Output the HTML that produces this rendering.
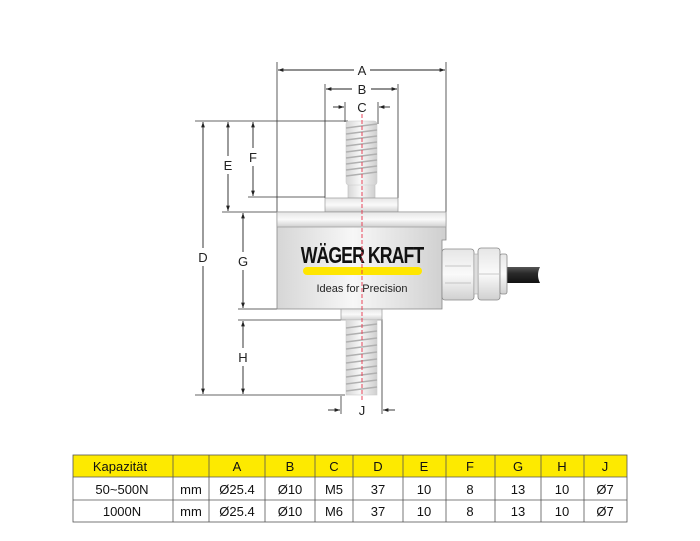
<!DOCTYPE html>
<html><head><meta charset="utf-8"><style>
html,body{margin:0;padding:0;background:#fff;width:700px;height:541px;overflow:hidden}
svg{display:block}
text{font-family:"Liberation Sans",sans-serif}
</style></head><body>
<svg width="700" height="541" viewBox="0 0 700 541" xmlns="http://www.w3.org/2000/svg">
<defs>
<linearGradient id="m" x1="0" x2="1" y1="0" y2="0">
<stop offset="0" stop-color="#d6d6d6"/><stop offset="0.45" stop-color="#f7f7f7"/><stop offset="1" stop-color="#cfcfcf"/>
</linearGradient>
<linearGradient id="mv" x1="0" x2="0" y1="0" y2="1">
<stop offset="0" stop-color="#e6e6e6"/><stop offset="0.5" stop-color="#fafafa"/><stop offset="1" stop-color="#d0d0d0"/>
</linearGradient>
<linearGradient id="cab" x1="0" x2="0" y1="0" y2="1">
<stop offset="0" stop-color="#555"/><stop offset="0.4" stop-color="#2a2a2a"/><stop offset="1" stop-color="#111"/>
</linearGradient>
<marker id="ar" viewBox="0 0 10 10" refX="10" refY="5" markerWidth="8" markerHeight="6" orient="auto-start-reverse">
<path d="M0,1.5 L10,5 L0,8.5 Z" fill="#222"/></marker>
</defs>

<g stroke="#333" stroke-width="0.8" fill="none">
<line x1="277" y1="62" x2="277" y2="212"/>
<line x1="446" y1="62" x2="446" y2="212"/>
<line x1="325" y1="84" x2="325" y2="198"/>
<line x1="398" y1="84" x2="398" y2="198"/>
<line x1="345" y1="102" x2="345" y2="122"/>
<line x1="378" y1="102" x2="378" y2="124"/>
<line x1="195" y1="121" x2="348" y2="121"/>
<line x1="195" y1="395" x2="345" y2="395"/>
<line x1="222" y1="212" x2="277" y2="212"/>
<line x1="248" y1="197" x2="325" y2="197"/>
<line x1="238" y1="309" x2="277" y2="309"/>
<line x1="238" y1="320" x2="341" y2="320"/>
<line x1="341" y1="396" x2="341" y2="414"/>
<line x1="382" y1="319" x2="382" y2="414"/>
</g>

<g stroke="#222" stroke-width="0.9" fill="none">
<line x1="278" y1="70" x2="354" y2="70" marker-start="url(#ar)"/>
<line x1="370" y1="70" x2="445" y2="70" marker-end="url(#ar)"/>
<line x1="326" y1="89" x2="352" y2="89" marker-start="url(#ar)"/>
<line x1="371" y1="89" x2="397" y2="89" marker-end="url(#ar)"/>
<line x1="333" y1="107" x2="344" y2="107" marker-end="url(#ar)"/>
<line x1="390" y1="107" x2="379" y2="107" marker-end="url(#ar)"/>
<line x1="328" y1="410" x2="340" y2="410" marker-end="url(#ar)"/>
<line x1="395" y1="410" x2="383" y2="410" marker-end="url(#ar)"/>
<line x1="203" y1="122" x2="203" y2="248" marker-start="url(#ar)"/>
<line x1="203" y1="266" x2="203" y2="394" marker-end="url(#ar)"/>
<line x1="228" y1="122" x2="228" y2="156" marker-start="url(#ar)"/>
<line x1="228" y1="174" x2="228" y2="211" marker-end="url(#ar)"/>
<line x1="253" y1="122" x2="253" y2="148" marker-start="url(#ar)"/>
<line x1="253" y1="166" x2="253" y2="196" marker-end="url(#ar)"/>
<line x1="243" y1="213" x2="243" y2="252" marker-start="url(#ar)"/>
<line x1="243" y1="270" x2="243" y2="308" marker-end="url(#ar)"/>
<line x1="243" y1="321" x2="243" y2="348" marker-start="url(#ar)"/>
<line x1="243" y1="366" x2="243" y2="394" marker-end="url(#ar)"/>
</g>
<g font-size="13" fill="#222" text-anchor="middle">
<text x="362" y="75">A</text>
<text x="362" y="94">B</text>
<text x="362" y="112">C</text>
<text x="362" y="415">J</text>
<text x="203" y="262">D</text>
<text x="228" y="170">E</text>
<text x="253" y="162">F</text>
<text x="243" y="266">G</text>
<text x="243" y="362">H</text>
</g>

<rect x="348" y="180" width="27" height="18" fill="url(#m)" stroke="#bbb" stroke-width="0.6"/>
<rect x="346" y="121" width="31" height="64" rx="3" fill="url(#m)" stroke="#ccc" stroke-width="0.6"/>
<g stroke="#b0b0b0" stroke-width="1.4">
<line x1="346" y1="128" x2="377" y2="124"/><line x1="346" y1="134" x2="377" y2="130"/>
<line x1="346" y1="140" x2="377" y2="136"/><line x1="346" y1="146" x2="377" y2="142"/>
<line x1="346" y1="152" x2="377" y2="148"/><line x1="346" y1="158" x2="377" y2="154"/>
<line x1="346" y1="164" x2="377" y2="160"/><line x1="346" y1="170" x2="377" y2="166"/>
<line x1="346" y1="176" x2="377" y2="172"/>
</g>
<rect x="325" y="198" width="73" height="14" fill="url(#mv)" stroke="#999" stroke-width="0.7"/>

<path d="M277,212 H446 V240 H442 V309 H277 Z" fill="url(#m)" stroke="#888" stroke-width="0.8"/>
<rect x="277" y="212" width="169" height="15" fill="url(#mv)" stroke="#999" stroke-width="0.7"/>
<text x="362" y="263" text-anchor="middle" font-size="23" font-weight="bold" fill="#111" letter-spacing="-1.2" transform="translate(362 0) scale(0.77 1) translate(-362 0)">WÄGER KRAFT</text>
<rect x="303" y="267" width="119" height="8" rx="4" fill="#ffe600"/>
<text x="362" y="292" text-anchor="middle" font-size="11" fill="#222">Ideas for Precision</text>

<rect x="502" y="267" width="38" height="16" fill="url(#cab)"/>
<path d="M540,267 q-4,8 0,16" fill="#fff"/>
<rect x="442" y="249" width="32" height="51" rx="3" fill="url(#mv)" stroke="#888" stroke-width="0.8"/>
<line x1="445" y1="266" x2="471" y2="266" stroke="#999" stroke-width="0.6"/>
<line x1="445" y1="283" x2="471" y2="283" stroke="#999" stroke-width="0.6"/>
<rect x="478" y="248" width="22" height="52" rx="3" fill="url(#mv)" stroke="#888" stroke-width="0.8"/>
<line x1="479" y1="274" x2="499" y2="274" stroke="#999" stroke-width="0.6"/>
<rect x="500" y="254" width="7" height="40" rx="2" fill="url(#mv)" stroke="#888" stroke-width="0.8"/>
<rect x="474" y="254" width="4" height="40" fill="#ddd" stroke="#999" stroke-width="0.5"/>

<rect x="341" y="309" width="41" height="11" fill="url(#mv)" stroke="#999" stroke-width="0.7"/>
<rect x="346" y="320" width="31" height="75" fill="url(#m)" stroke="#ccc" stroke-width="0.6"/>
<g stroke="#b0b0b0" stroke-width="1.4">
<line x1="346" y1="328" x2="377" y2="324"/><line x1="346" y1="335" x2="377" y2="331"/>
<line x1="346" y1="342" x2="377" y2="338"/><line x1="346" y1="349" x2="377" y2="345"/>
<line x1="346" y1="356" x2="377" y2="352"/><line x1="346" y1="363" x2="377" y2="359"/>
<line x1="346" y1="370" x2="377" y2="366"/><line x1="346" y1="377" x2="377" y2="373"/>
<line x1="346" y1="384" x2="377" y2="380"/><line x1="346" y1="391" x2="377" y2="387"/>
</g>

<line x1="362" y1="114" x2="362" y2="402" stroke="#e8324a" stroke-width="0.9" stroke-dasharray="4,2"/>

<rect x="73" y="455" width="554" height="22" fill="#fdea00"/>
<g stroke="#555" stroke-width="0.8" fill="none">
<rect x="73" y="455" width="554" height="67"/>
<line x1="73" y1="477" x2="627" y2="477"/>
<line x1="73" y1="500" x2="627" y2="500"/>
<line x1="173" y1="455" x2="173" y2="522"/>
<line x1="209" y1="455" x2="209" y2="522"/>
<line x1="265" y1="455" x2="265" y2="522"/>
<line x1="315" y1="455" x2="315" y2="522"/>
<line x1="353" y1="455" x2="353" y2="522"/>
<line x1="403" y1="455" x2="403" y2="522"/>
<line x1="446" y1="455" x2="446" y2="522"/>
<line x1="495" y1="455" x2="495" y2="522"/>
<line x1="541" y1="455" x2="541" y2="522"/>
<line x1="584" y1="455" x2="584" y2="522"/>
</g>
<g font-size="13" fill="#111" text-anchor="middle">
<text x="120" y="471">Kapazität</text>
<text x="237" y="471">A</text><text x="290" y="471">B</text><text x="334" y="471">C</text>
<text x="378" y="471">D</text><text x="424" y="471">E</text><text x="470" y="471">F</text>
<text x="518" y="471">G</text><text x="562" y="471">H</text><text x="605" y="471">J</text>
<text x="122" y="494">50~500N</text><text x="191" y="494">mm</text>
<text x="237" y="494">Ø25.4</text><text x="290" y="494">Ø10</text><text x="334" y="494">M5</text>
<text x="378" y="494">37</text><text x="424" y="494">10</text><text x="470" y="494">8</text>
<text x="518" y="494">13</text><text x="562" y="494">10</text><text x="605" y="494">Ø7</text>
<text x="122" y="516">1000N</text><text x="191" y="516">mm</text>
<text x="237" y="516">Ø25.4</text><text x="290" y="516">Ø10</text><text x="334" y="516">M6</text>
<text x="378" y="516">37</text><text x="424" y="516">10</text><text x="470" y="516">8</text>
<text x="518" y="516">13</text><text x="562" y="516">10</text><text x="605" y="516">Ø7</text>
</g>
</svg>
</body></html>
